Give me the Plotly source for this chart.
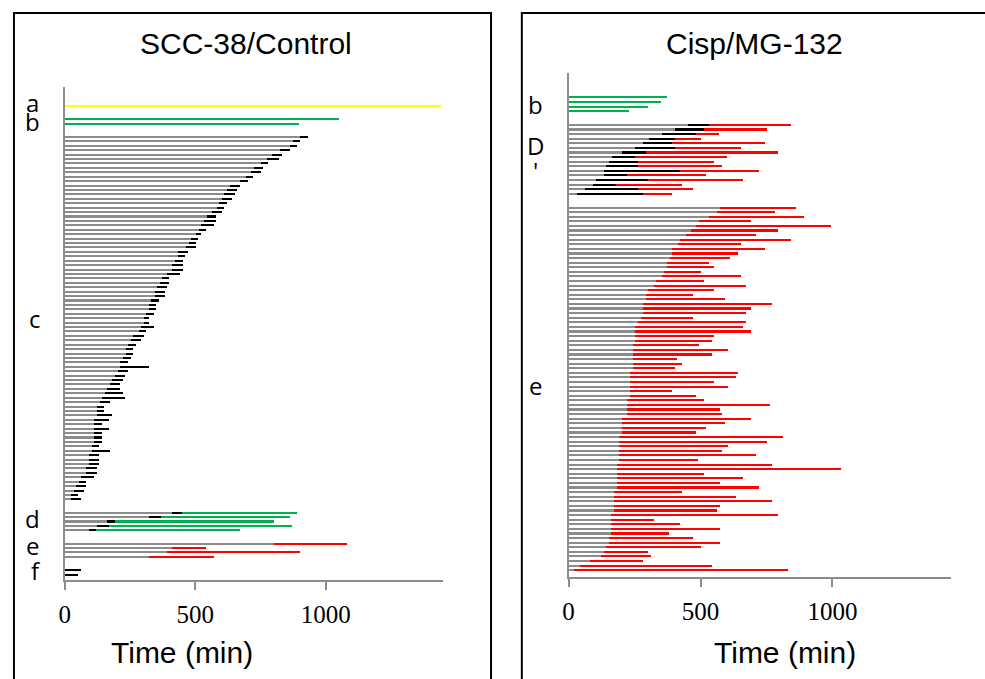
import plotly.graph_objects as go

W, H = 985, 679

# ---------------- Left panel: SCC-38/Control ----------------
L_a_end = [1440]
L_b_end = [1048, 897]
L_c_gray = [901, 873, 863, 824, 794, 774, 752, 722, 712, 692, 671, 633, 621, 610, 603, 591, 582, 562,
            542, 533, 522, 513, 503, 482, 473, 462, 431, 431, 421, 411, 411, 392, 372, 362, 352, 343,
            343, 331, 321, 321, 312, 302, 302, 292, 282, 261, 253, 242, 232, 232, 222, 212, 212, 203,
            193, 181, 173, 162, 154, 143, 133, 123, 123, 123, 112, 112, 112, 112, 112, 112, 103, 103,
            93, 93, 93, 82, 82, 63, 53, 43, 33, 23, 23]
L_c_black = [930, 900, 890, 860, 829, 820, 779, 760, 750, 720, 699, 670, 660, 650, 640, 621, 609, 600,
             580, 580, 571, 541, 520, 510, 500, 501, 470, 461, 450, 450, 450, 440, 400, 400, 391, 381,
             381, 360, 350, 350, 341, 321, 321, 341, 311, 301, 292, 272, 261, 261, 251, 241, 321, 242,
             230, 221, 211, 211, 221, 230, 171, 151, 151, 180, 170, 141, 170, 141, 141, 141, 131, 171,
             131, 131, 131, 121, 121, 110, 81, 81, 71, 51, 61]
L_d_gray = [411, 321, 161, 121, 91]
L_d_black = [448, 369, 190, 168, 119]
L_d_green = [890, 860, 800, 871, 670]
L_e_gray = [800, 411, 392, 321]
L_e_red = [1080, 541, 900, 571]
L_f_black = [60, 50]
L_labels = ["a", "b", "c", "d", "e", "f"]

# ---------------- Right panel: Cisp/MG-132 ----------------
R_b_green = [370, 350, 301, 229]
R_D_gray = [452, 401, 351, 302, 281, 251, 202, 162, 151, 142, 132, 132, 102, 91, 60, 30]
R_D_black = [529, 510, 480, 401, 390, 401, 291, 251, 261, 261, 419, 219, 300, 179, 261, 280]
R_D_red = [841, 751, 569, 500, 742, 651, 791, 600, 550, 581, 720, 520, 660, 429, 470, 390]
R_e_gray = [571, 562, 531, 491, 482, 461, 442, 422, 412, 392, 392, 382, 372, 372, 361, 351, 331, 321,
            301, 291, 291, 281, 281, 281, 271, 261, 251, 251, 251, 251, 241, 241, 241, 241, 241, 241,
            230, 230, 230, 230, 230, 230, 220, 220, 220, 220, 202, 202, 202, 202, 190, 190, 190, 190,
            190, 190, 180, 180, 180, 180, 180, 180, 170, 170, 170, 170, 170, 161, 161, 161, 161, 161,
            151, 151, 141, 131, 121, 81, 40, 20]
R_e_red = [861, 781, 892, 691, 992, 791, 710, 841, 651, 741, 641, 611, 531, 550, 501, 651, 511, 671,
           550, 470, 591, 771, 691, 671, 470, 671, 661, 691, 550, 540, 491, 601, 540, 411, 429, 401,
           641, 631, 550, 601, 390, 481, 511, 761, 571, 581, 691, 591, 520, 481, 811, 751, 601, 581,
           710, 490, 771, 1031, 511, 661, 571, 720, 429, 631, 771, 571, 560, 791, 321, 421, 571, 380,
           470, 571, 500, 301, 310, 280, 540, 831]
R_labels = ["b", "D", "'", "e"]

GRAY, BLACK, GREEN, RED, YELLOW = "#8c8c8c", "#000000", "#00b050", "#ff0000", "#ffff00"
GAP = 2


def layout_rows(sizes):
    pos, out = 0, []
    for n in sizes:
        out.append(list(range(pos, pos + n)))
        pos += n + GAP
    return out


fig = go.Figure()


def add_seg(y, base, end, color, xa, ya):
    xs = [e - b for b, e in zip(base, end)]
    fig.add_trace(go.Bar(y=y, x=xs, base=base, orientation="h", width=0.46,
                         marker=dict(color=color, line=dict(width=0)),
                         xaxis=xa, yaxis=ya, showlegend=False, hoverinfo="skip"))


# left rows
ra, rb, rc, rd, re_, rf = layout_rows([len(L_a_end), len(L_b_end), len(L_c_gray),
                                       len(L_d_gray), len(L_e_gray), len(L_f_black)])
add_seg(ra, [0], L_a_end, YELLOW, "x", "y")
add_seg(rb, [0] * len(L_b_end), L_b_end, GREEN, "x", "y")
add_seg(rc, [0] * len(L_c_gray), L_c_gray, GRAY, "x", "y")
add_seg(rc, L_c_gray, L_c_black, BLACK, "x", "y")
add_seg(rd, [0] * len(L_d_gray), L_d_gray, GRAY, "x", "y")
add_seg(rd, L_d_gray, L_d_black, BLACK, "x", "y")
add_seg(rd, L_d_black, L_d_green, GREEN, "x", "y")
add_seg(re_, [0] * len(L_e_gray), L_e_gray, GRAY, "x", "y")
add_seg(re_, L_e_gray, L_e_red, RED, "x", "y")
add_seg(rf, [0] * len(L_f_black), L_f_black, BLACK, "x", "y")

# right rows
Rb, RD, Re = layout_rows([len(R_b_green), len(R_D_gray), len(R_e_gray)])
add_seg(Rb, [0] * len(R_b_green), R_b_green, GREEN, "x2", "y2")
add_seg(RD, [0] * len(R_D_gray), R_D_gray, GRAY, "x2", "y2")
add_seg(RD, R_D_gray, R_D_black, BLACK, "x2", "y2")
add_seg(RD, R_D_black, R_D_red, RED, "x2", "y2")
add_seg(Re, [0] * len(R_e_gray), R_e_gray, GRAY, "x2", "y2")
add_seg(Re, R_e_gray, R_e_red, RED, "x2", "y2")


def px(x):
    return x / W


def py(y):
    return 1 - y / H


# left geometry: row r at pixel 105.7 + 4.42 r ; right: 97.7 + 4.59 r
L0, LS = 105.7, 4.42
R0, RS = 97.7, 4.59
L_top, L_bot = 86.7, 580.0
R_top, R_bot = 73.3, 577.3

xaxis_common = dict(range=[0, 1450], showgrid=False, zeroline=False, showline=True,
                    linecolor=GRAY, linewidth=2, ticks="outside", ticklen=8, tickwidth=2,
                    tickcolor=GRAY, tickvals=[0, 500, 1000], ticktext=["0", "500", "1000"],
                    tickfont=dict(family="Liberation Serif", size=25, color="black"),
                    ticklabelstandoff=3)
yaxis_common = dict(showgrid=False, zeroline=False, showline=True, linecolor=GRAY, linewidth=2,
                    showticklabels=False, ticks="")

fig.update_layout(
    width=W, height=H, margin=dict(l=0, r=0, t=0, b=0),
    paper_bgcolor="white", plot_bgcolor="white", barmode="overlay", bargap=0,
    xaxis=dict(domain=[px(59), px(440)], anchor="y", **xaxis_common),
    yaxis=dict(domain=[py(L_bot), py(L_top)], anchor="x",
               range=[(L_bot - L0) / LS, (L_top - L0) / LS], **yaxis_common),
    xaxis2=dict(domain=[px(566), px(951)], anchor="y2", **xaxis_common),
    yaxis2=dict(domain=[py(R_bot), py(R_top)], anchor="x2",
                range=[(R_bot - R0) / RS, (R_top - R0) / RS], **yaxis_common),
)

# panel frames
fig.add_shape(type="rect", xref="paper", yref="paper", x0=px(8), x1=px(488), y0=-0.02, y1=py(13),
              line=dict(color="black", width=2), fillcolor="rgba(0,0,0,0)", layer="above")
fig.add_shape(type="rect", xref="paper", yref="paper", x0=px(519), x1=1.02, y0=-0.02, y1=py(13),
              line=dict(color="black", width=2), fillcolor="rgba(0,0,0,0)", layer="above")

ann = []
sans = "Liberation Sans"
ann.append(dict(text="SCC-38/Control", x=px(241), y=py(44), font=dict(family=sans, size=30)))
ann.append(dict(text="Cisp/MG-132", x=px(753), y=py(44), font=dict(family=sans, size=30)))
ann.append(dict(text="Time (min)", x=px(177), y=py(652), font=dict(family=sans, size=30)))
ann.append(dict(text="Time (min)", x=px(784), y=py(652), font=dict(family=sans, size=30)))

lab_font = dict(family="Open Sans", size=24, color="black")
L_label_y = [102, 121, 318, 518, 545, 570]
L_label_x = [27, 27, 29, 27, 27, 30]
for t, xx, yy in zip(L_labels, L_label_x, L_label_y):
    ann.append(dict(text=t, x=px(xx), y=py(yy), font=lab_font))
R_label_y = [104, 145, 170, 385]
for t, yy in zip(R_labels, R_label_y):
    ann.append(dict(text=t, x=px(533), y=py(yy), font=lab_font))

for a in ann:
    a.update(xref="paper", yref="paper", showarrow=False, xanchor="center", yanchor="middle")
    a["font"].setdefault("color", "black")
fig.update_layout(annotations=ann)

fig.write_html("out.html")
